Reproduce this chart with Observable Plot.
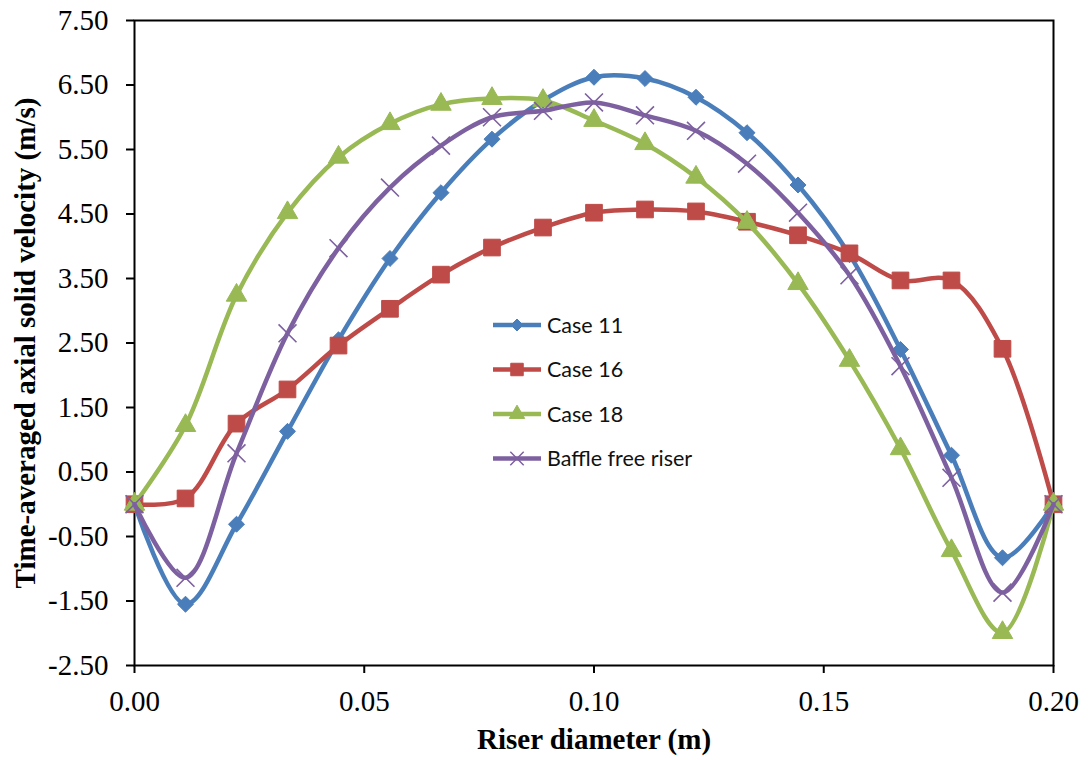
<!DOCTYPE html>
<html><head><meta charset="utf-8">
<script src="https://cdn.jsdelivr.net/npm/d3@7"></script>
<script src="https://cdn.jsdelivr.net/npm/@observablehq/plot@0.6"></script>
<style>
body{margin:0;background:#fff;}
#wrap{position:relative;width:1088px;height:760px;}
#legend{position:absolute;left:490px;top:305px;}
</style></head><body><div id="wrap"></div>
<script>
// Data
const riserDiameter = [0, 0.0111, 0.0222, 0.0333, 0.0444, 0.0556, 0.0667, 0.0778, 0.0889, 0.1, 0.1111, 0.1222, 0.1333, 0.1444, 0.1556, 0.1667, 0.1778, 0.1889, 0.2];
const case11 = [0, -1.55, -0.31, 1.13, 2.55, 3.81, 4.83, 5.66, 6.26, 6.62, 6.60, 6.31, 5.76, 4.95, 3.87, 2.40, 0.76, -0.83, 0];
const case16 = [0, 0.09, 1.25, 1.78, 2.46, 3.03, 3.56, 3.98, 4.29, 4.52, 4.57, 4.54, 4.38, 4.17, 3.89, 3.47, 3.47, 2.41, 0];
const case18 = [0, 1.22, 3.24, 4.52, 5.38, 5.90, 6.20, 6.29, 6.26, 5.95, 5.59, 5.07, 4.37, 3.42, 2.23, 0.86, -0.72, -1.99, 0];
const baffleFree = [0, -1.14, 0.79, 2.65, 3.97, 4.91, 5.56, 6.00, 6.10, 6.23, 6.03, 5.79, 5.28, 4.52, 3.55, 2.14, 0.41, -1.37, 0];
const seriesNames = ["Case 11", "Case 16", "Case 18", "Baffle free riser"];
const xTicks = [0, 0.05, 0.10, 0.15, 0.20];
const yTicks = [-2.5, -1.5, -0.5, 0.5, 1.5, 2.5, 3.5, 4.5, 5.5, 6.5, 7.5];
const xTitle = "Riser diameter (m)";
const yTitle = "Time-averaged axial solid velocity (m/s)";

const seriesValues = [case11, case16, case18, baffleFree];
const styles = [
  {color: "#4A7EBB", symbol: "diamond2", r: 7.2, filled: true},
  {color: "#BE4B48", symbol: "square", r: 9.4, filled: true},
  {color: "#98B954", symbol: "triangle", r: 7.6, filled: true},
  {color: "#7D60A0", symbol: "times", r: 8.2, filled: false}
];

const rows = [];
seriesNames.forEach((s, k) => riserDiameter.forEach((x, i) => rows.push({x, y: seriesValues[k][i], s})));

const marks = [
  Plot.axisX({ticks: xTicks, tickFormat: d => d.toFixed(2), tickSize: 8, tickPadding: 17, fontSize: 29, label: null, strokeWidth: 2}),
  Plot.axisY({ticks: yTicks, tickFormat: d => d.toFixed(2), tickSize: 8, tickPadding: 18, fontSize: 29, label: null, strokeWidth: 2}),
  Plot.frame({stroke: "black", strokeWidth: 2})
];
seriesNames.forEach((s, k) => {
  const d = rows.filter(r => r.s === s);
  const st = styles[k];
  marks.push(Plot.line(d, {x: "x", y: "y", stroke: st.color, strokeWidth: 4.5, curve: "catmull-rom"}));
  marks.push(Plot.dot(d, {x: "x", y: "y", symbol: () => st.symbol, r: st.r,
    fill: st.filled ? st.color : "none", stroke: st.color, strokeWidth: st.filled ? 1 : 1.6}));
});
marks.push(Plot.text([xTitle], {frameAnchor: "bottom", dy: 83, text: d => d, fontSize: 29, fontWeight: "bold", textAnchor: "middle"}));
marks.push(Plot.text([yTitle], {frameAnchor: "left", dx: -109, rotate: -90, text: d => d, fontSize: 29, fontWeight: "bold", textAnchor: "middle"}));

const chart = Plot.plot({
  width: 1088, height: 760,
  marginLeft: 134, marginRight: 35, marginTop: 20, marginBottom: 95,
  style: {fontFamily: "'Liberation Serif', 'Times New Roman', serif", color: "black", background: "white", overflow: "visible"},
  x: {domain: [0, 0.2]},
  y: {domain: [-2.5, 7.5]},
  marks
});
const wrap = document.getElementById("wrap");
wrap.appendChild(chart);

// Legend
const leg = d3.select(wrap).append("svg").attr("id", "legend").attr("width", 240).attr("height", 180);
seriesNames.forEach((s, k) => {
  const st = styles[k];
  const yy = 20 + k * 44.5;
  const g = leg.append("g").attr("transform", `translate(0,${yy})`);
  g.append("line").attr("x1", 3).attr("x2", 51).attr("y1", 0).attr("y2", 0).attr("stroke", st.color).attr("stroke-width", 4.5);
  const sym = {diamond2: d3.symbolDiamond2, square: d3.symbolSquare, triangle: d3.symbolTriangle, times: d3.symbolTimes}[st.symbol];
  const size = Math.PI * (st.r * 0.75) ** 2;
  g.append("path").attr("transform", "translate(27,0)").attr("d", d3.symbol(sym, size)())
    .attr("fill", st.filled ? st.color : "none").attr("stroke", st.color).attr("stroke-width", st.filled ? 1 : 1.5);
  g.append("text").attr("x", 57).attr("y", 0).attr("dy", "0.36em").attr("font-family", "Lato, 'Open Sans', sans-serif")
    .attr("font-size", 21.5).attr("fill", "#111").text(s);
});
</script></body></html>
